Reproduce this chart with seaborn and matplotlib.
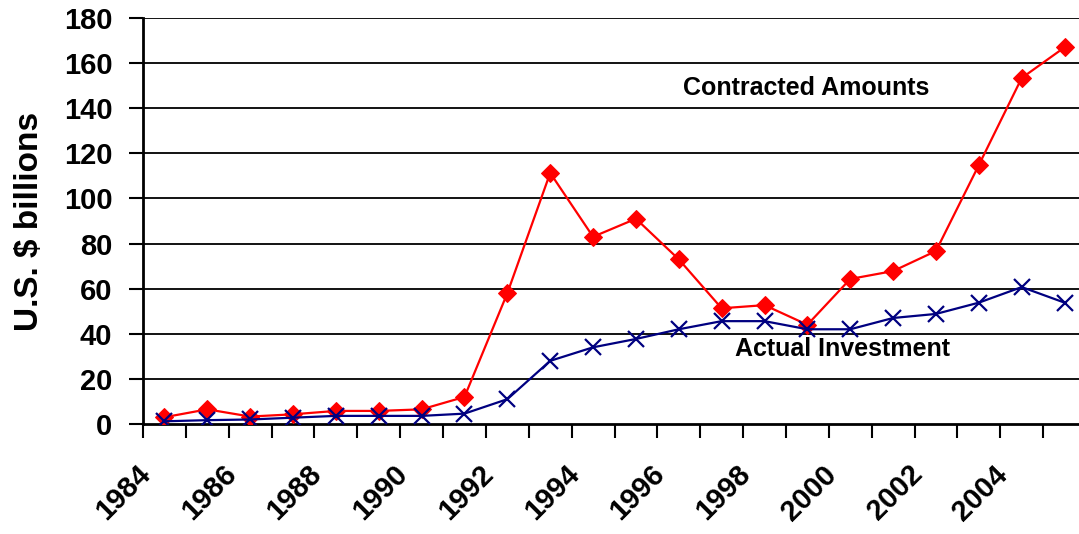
import pandas as pd
import matplotlib.pyplot as plt
import matplotlib.transforms as mtransforms
import seaborn as sns

# Dados (US$ bilhões)
anos = list(range(1984, 2006))
contratado = [3.0, 6.5, 3.3, 4.3, 5.8, 5.8, 6.5, 12.0, 58.0, 111.3, 83.0, 91.0,
              73.0, 51.3, 52.7, 44.0, 64.3, 67.8, 76.7, 114.8, 153.4, 167.0]
investido = [1.2, 1.7, 2.0, 2.8, 3.6, 3.6, 3.6, 4.6, 11.0, 28.0, 34.0, 37.7,
             42.0, 45.6, 45.6, 42.0, 42.0, 47.0, 48.8, 53.8, 60.7, 53.8]

df = pd.DataFrame({'Ano': anos, 'Contratado': contratado, 'Investido': investido})

sns.set_style('white')
plt.rcParams['font.family'] = ['Liberation Sans', 'DejaVu Sans']
plt.rcParams['font.weight'] = 'bold'
plt.rcParams['text.color'] = 'black'
plt.rcParams['xtick.color'] = 'black'
plt.rcParams['ytick.color'] = 'black'
plt.rcParams['axes.labelcolor'] = 'black'

fig = plt.figure(figsize=(10.79, 5.34), dpi=100)
ax = fig.add_axes([143 / 1079, 1 - 424 / 534, (1086 - 143) / 1079, (424 - 18) / 534])

# Linhas de grade horizontais
for v in range(20, 181, 20):
    ax.axhline(v, color='black', linewidth=1.3, zorder=1)

sns.lineplot(data=df, x='Ano', y='Contratado', ax=ax, color='#FF0000', linewidth=1.6,
             marker='D', markersize=9, markeredgecolor='#FF0000', zorder=3)
sns.lineplot(data=df, x='Ano', y='Investido', ax=ax, color='#000080', linewidth=1.6,
             marker='x', markersize=11, markeredgewidth=1.6, markeredgecolor='#000080', zorder=4)

ax.set_xlim(anos[0] - 0.5, anos[-1] + 0.5)
ax.set_ylim(0, 180)
ax.set_yticks(range(0, 181, 20))

ax.tick_params(axis='y', labelsize=21, length=10, width=1.5, pad=12, direction='out', left=True)
ax.tick_params(axis='x', length=10, width=1.5, pad=16, direction='out', bottom=True)

# Marcas entre as categorias, rótulo em anos pares
ax.set_xticks([a - 0.5 for a in anos])
ax.set_xticklabels([str(a) if a % 2 == 0 else '' for a in anos],
                   rotation=45, ha='right', fontsize=21, fontweight='bold')
desloca = mtransforms.ScaledTranslation(13 / 100, 0, fig.dpi_scale_trans)
for lbl in ax.get_xticklabels():
    lbl.set_transform(lbl.get_transform() + desloca)
for lbl in ax.get_yticklabels():
    lbl.set_fontweight('bold')

for s in ['top', 'right']:
    ax.spines[s].set_visible(False)
for s in ['left', 'bottom']:
    ax.spines[s].set_color('black')
    ax.spines[s].set_linewidth(2)

ax.set_xlabel('')
ax.set_ylabel('U.S. $ billions', fontsize=24, fontweight='bold')
ax.yaxis.set_label_coords(-98 / 943, 0.5)

ax.text(1998.97, 149, 'Contracted Amounts', fontsize=18, fontweight='bold', ha='center', va='center')
ax.text(1999.83, 33.3, 'Actual Investment', fontsize=18, fontweight='bold', ha='center', va='center')

plt.savefig('out.png', dpi=100)
